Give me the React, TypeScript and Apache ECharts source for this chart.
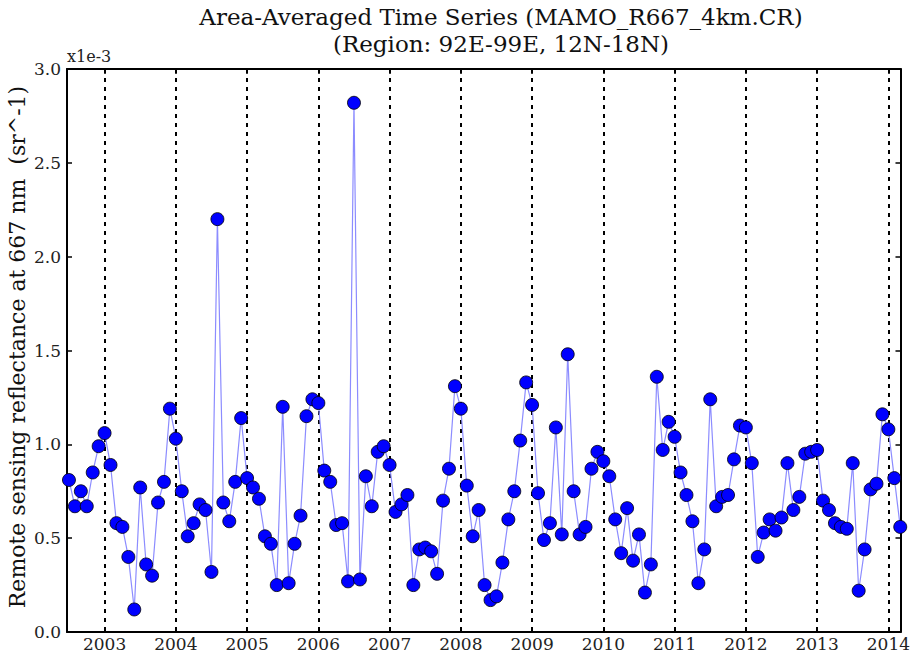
import { useEffect, useRef } from 'react';
import * as echarts from 'echarts';

// Remote sensing reflectance at 667 nm, monthly, in units of 1e-3 sr^-1
const START_YEAR = 2002;
const START_MONTH = 6; // July (0-based)
const v2002 = [0.81, 0.67, 0.75, 0.67, 0.85, 0.99];
const v2003 = [1.06, 0.89, 0.58, 0.56, 0.40, 0.12, 0.77, 0.36, 0.30, 0.69, 0.80, 1.19];
const v2004 = [1.03, 0.75, 0.51, 0.58, 0.68, 0.65, 0.32, 2.20, 0.69, 0.59, 0.80, 1.14];
const v2005 = [0.82, 0.77, 0.71, 0.51, 0.47, 0.25, 1.20, 0.26, 0.47, 0.62, 1.15, 1.24];
const v2006 = [1.22, 0.86, 0.80, 0.57, 0.58, 0.27, 2.82, 0.28, 0.83, 0.67, 0.96, 0.99];
const v2007 = [0.89, 0.64, 0.68, 0.73, 0.25, 0.44, 0.45, 0.43, 0.31, 0.70, 0.87, 1.31];
const v2008 = [1.19, 0.78, 0.51, 0.65, 0.25, 0.17, 0.19, 0.37, 0.60, 0.75, 1.02, 1.33];
const v2009 = [1.21, 0.74, 0.49, 0.58, 1.09, 0.52, 1.48, 0.75, 0.52, 0.56, 0.87, 0.96];
const v2010 = [0.91, 0.83, 0.60, 0.42, 0.66, 0.38, 0.52, 0.21, 0.36, 1.36, 0.97, 1.12];
const v2011 = [1.04, 0.85, 0.73, 0.59, 0.26, 0.44, 1.24, 0.67, 0.72, 0.73, 0.92, 1.10];
const v2012 = [1.09, 0.90, 0.40, 0.53, 0.60, 0.54, 0.61, 0.90, 0.65, 0.72, 0.95, 0.96];
const v2013 = [0.97, 0.70, 0.65, 0.58, 0.56, 0.55, 0.90, 0.22, 0.44, 0.76, 0.79, 1.16];
const v2014 = [1.08, 0.82, 0.56];

const YEAR_TICKS = [2003, 2004, 2005, 2006, 2007, 2008, 2009, 2010, 2011, 2012, 2013, 2014];
const Y_TICKS_LABEL = ['0.0', '0.5', '1.0', '1.5', '2.0', '2.5', '3.0'];

const TITLE_1 = 'Area-Averaged Time Series (MAMO_R667_4km.CR)';
const TITLE_2 = '(Region: 92E-99E, 12N-18N)';
const Y_TITLE = 'Remote sensing reflectance at 667 nm  (sr^-1)';
const Y_OFFSET = 'x1e-3';

const FONT = '"DejaVu Serif", serif';

const allValues = [
  ...v2002, ...v2003, ...v2004, ...v2005, ...v2006, ...v2007, ...v2008,
  ...v2009, ...v2010, ...v2011, ...v2012, ...v2013, ...v2014,
];

const seriesData = allValues.map((v, i) => {
  const m = START_MONTH + i;
  const yr = START_YEAR + Math.floor(m / 12);
  const mo = m % 12;
  return [yr + mo / 12, v];
});

const X_MIN = 2002.4725;
const X_MAX = 2014.17;

const option: any = {
  animation: false,
  backgroundColor: '#fff',
  grid: { left: 67, right: 9, top: 69, bottom: 19, containLabel: false },
  xAxis: [
    {
      type: 'value',
      min: X_MIN,
      max: X_MAX,
      position: 'bottom',
      axisLine: { show: true, onZero: false, lineStyle: { color: '#000', width: 2 } },
      axisTick: { show: true, inside: true, length: 5, customValues: YEAR_TICKS, lineStyle: { color: '#000', width: 1.5 } },
      axisLabel: {
        show: true,
        customValues: YEAR_TICKS,
        margin: 3,
        color: '#222',
        fontFamily: FONT,
        fontSize: 17,
        formatter: (v: number) => String(Math.round(v)),
      },
      splitLine: { show: true, lineStyle: { color: '#000', width: 2, type: [4, 5] } },
    },
    {
      type: 'value',
      min: X_MIN,
      max: X_MAX,
      position: 'top',
      axisLine: { show: true, onZero: false, lineStyle: { color: '#000', width: 2 } },
      axisTick: { show: true, inside: true, length: 5, customValues: YEAR_TICKS, lineStyle: { color: '#000', width: 1.5 } },
      axisLabel: { show: false },
      splitLine: { show: false },
    },
  ],
  yAxis: [
    {
      type: 'value',
      min: 0,
      max: 3,
      interval: 0.5,
      position: 'left',
      axisLine: { show: true, onZero: false, lineStyle: { color: '#000', width: 2 } },
      axisTick: { show: true, inside: true, length: 5, lineStyle: { color: '#000', width: 1.5 } },
      axisLabel: {
        show: true,
        margin: 6,
        color: '#222',
        fontFamily: FONT,
        fontSize: 17,
        formatter: (v: number) => Y_TICKS_LABEL[Math.round(v * 2)] ?? v.toFixed(1),
      },
      splitLine: { show: false },
    },
    {
      type: 'value',
      min: 0,
      max: 3,
      interval: 0.5,
      position: 'right',
      axisLine: { show: true, onZero: false, lineStyle: { color: '#000', width: 2 } },
      axisTick: { show: true, inside: true, length: 5, lineStyle: { color: '#000', width: 1.5 } },
      axisLabel: { show: false },
      splitLine: { show: false },
    },
  ],
  series: [
    {
      type: 'line',
      xAxisIndex: 0,
      yAxisIndex: 0,
      data: seriesData,
      clip: true,
      symbol: 'circle',
      symbolSize: 13,
      showSymbol: true,
      itemStyle: { color: '#0000ff', borderColor: '#000', borderWidth: 0.8 },
      lineStyle: { color: '#8c8cff', width: 1.2 },
      emphasis: { disabled: true },
    },
  ],
  graphic: [
    {
      type: 'text',
      x: 501,
      y: 17,
      style: { text: TITLE_1, fill: '#111', font: `normal 23px ${FONT}`, align: 'center', verticalAlign: 'middle' },
    },
    {
      type: 'text',
      x: 501,
      y: 44,
      style: { text: TITLE_2, fill: '#111', font: `normal 23px ${FONT}`, align: 'center', verticalAlign: 'middle' },
    },
    {
      type: 'text',
      x: 67,
      y: 56,
      style: { text: Y_OFFSET, fill: '#222', font: `normal 16px ${FONT}`, align: 'left', verticalAlign: 'middle' },
    },
    {
      type: 'text',
      x: 17,
      y: 347,
      rotation: Math.PI / 2,
      style: { text: Y_TITLE, fill: '#111', font: `normal 22px ${FONT}`, align: 'center', verticalAlign: 'middle' },
    },
  ],
};

export default function App() {
  const ref = useRef<HTMLDivElement>(null);
  useEffect(() => {
    const chart = echarts.init(ref.current!, null, { renderer: 'svg' });
    chart.setOption(option);
    return () => chart.dispose();
  }, []);
  return (
    <div
      ref={ref}
      style={{ position: 'fixed', left: 0, top: 0, width: 913, height: 652, background: '#fff' }}
    />
  );
}
